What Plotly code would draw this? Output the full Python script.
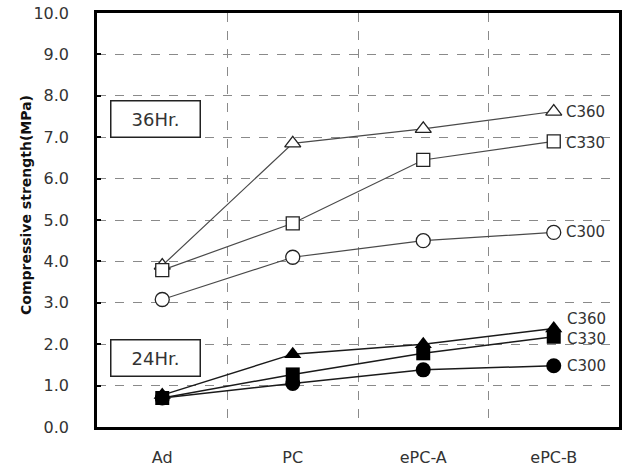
import plotly.graph_objects as go

categories = ["Ad", "PC", "ePC-A", "ePC-B"]

# 36 hours (open markers)
c360_36 = [3.9, 6.85, 7.2, 7.62]
c330_36 = [3.79, 4.92, 6.45, 6.9]
c300_36 = [3.08, 4.1, 4.5, 4.7]

# 24 hours (filled markers)
c360_24 = [0.77, 1.76, 2.0, 2.38]
c330_24 = [0.7, 1.27, 1.78, 2.18]
c300_24 = [0.7, 1.05, 1.38, 1.48]

series_names = ["C360", "C330", "C300"]
y_ticks = [0, 1, 2, 3, 4, 5, 6, 7, 8, 9, 10]

FONT = "DejaVu Sans"
LINE36 = "#4a4a4a"
LINE24 = "#1a1a1a"

fig = go.Figure()

open_specs = [(c360_36, "triangle-up", 14), (c330_36, "square", 13), (c300_36, "circle", 14)]
for (vals, sym, sz), name in zip(open_specs, series_names):
    fig.add_trace(go.Scatter(
        x=categories, y=vals, mode="lines+markers", name=name + " 36Hr",
        line=dict(color=LINE36, width=1.2),
        marker=dict(symbol=sym, size=sz, color="white",
                    line=dict(color="#222222", width=1.3)),
        showlegend=False))

filled_specs = [(c360_24, "triangle-up", 15), (c330_24, "square", 14), (c300_24, "circle", 15)]
for (vals, sym, sz), name in zip(filled_specs, series_names):
    fig.add_trace(go.Scatter(
        x=categories, y=vals, mode="lines+markers", name=name + " 24Hr",
        line=dict(color=LINE24, width=1.5),
        marker=dict(symbol=sym, size=sz, color="black"),
        showlegend=False))

annotations = []
label_shift_36 = [0, -2, 0]
label_shift_24 = [9, -2, 0]
for name, vals, ys in zip(series_names, [c360_36, c330_36, c300_36], label_shift_36):
    annotations.append(dict(x=categories[-1], y=vals[-1], xref="x", yref="y",
                            text=name, showarrow=False, xanchor="left", yanchor="middle",
                            xshift=10, yshift=ys, font=dict(family=FONT, size=15, color="#333333")))
for name, vals, ys in zip(series_names, [c360_24, c330_24, c300_24], label_shift_24):
    annotations.append(dict(x=categories[-1], y=vals[-1], xref="x", yref="y",
                            text=name, showarrow=False, xanchor="left", yanchor="middle",
                            xshift=11, yshift=ys, font=dict(family=FONT, size=15, color="#333333")))

for txt, ypx in [("36Hr.", 118.5), ("24Hr.", 357.5)]:
    annotations.append(dict(xref="paper", yref="paper",
                            x=(155 - 97) / 522, y=(427 - ypx) / 414,
                            text=txt, showarrow=False, xanchor="center", yanchor="middle",
                            width=86, height=33, bgcolor="white",
                            bordercolor="#222222", borderwidth=1.5, borderpad=1,
                            font=dict(family=FONT, size=18, color="#333333")))

annotations.append(dict(xref="paper", yref="paper", x=(26 - 97) / 522, y=(427 - 205) / 414,
                        text="<b>Compressive strength(MPa)</b>", textangle=-90, showarrow=False,
                        xanchor="center", yanchor="middle",
                        font=dict(family=FONT, size=14, color="#111111")))

fig.update_layout(
    width=624, height=469,
    margin=dict(l=97, r=5, t=13, b=42, autoexpand=False),
    paper_bgcolor="white", plot_bgcolor="white",
    font=dict(family=FONT, color="#333333"),
    annotations=annotations,
    showlegend=False,
)

fig.update_xaxes(
    type="category", categoryorder="array", categoryarray=categories,
    range=[-0.5, 3.5], tickson="boundaries", ticks="",
    showgrid=True, gridcolor="#8a8a8a", griddash="dash", gridwidth=1,
    showline=True, linecolor="black", linewidth=2.5, mirror=True,
    tickfont=dict(family=FONT, size=16, color="#333333"),
    ticklabelstandoff=14, zeroline=False, automargin=False,
)
fig.update_yaxes(
    range=[0, 10], tickvals=y_ticks, tickformat=".1f",
    ticks="inside", ticklen=4, tickcolor="black", tickwidth=1.5,
    showgrid=True, gridcolor="#8a8a8a", griddash="dash", gridwidth=1,
    showline=True, linecolor="black", linewidth=2.5, mirror=True,
    tickfont=dict(family=FONT, size=16, color="#333333"),
    ticklabelstandoff=22, zeroline=False, automargin=False,
)

fig.write_html("out.html")
